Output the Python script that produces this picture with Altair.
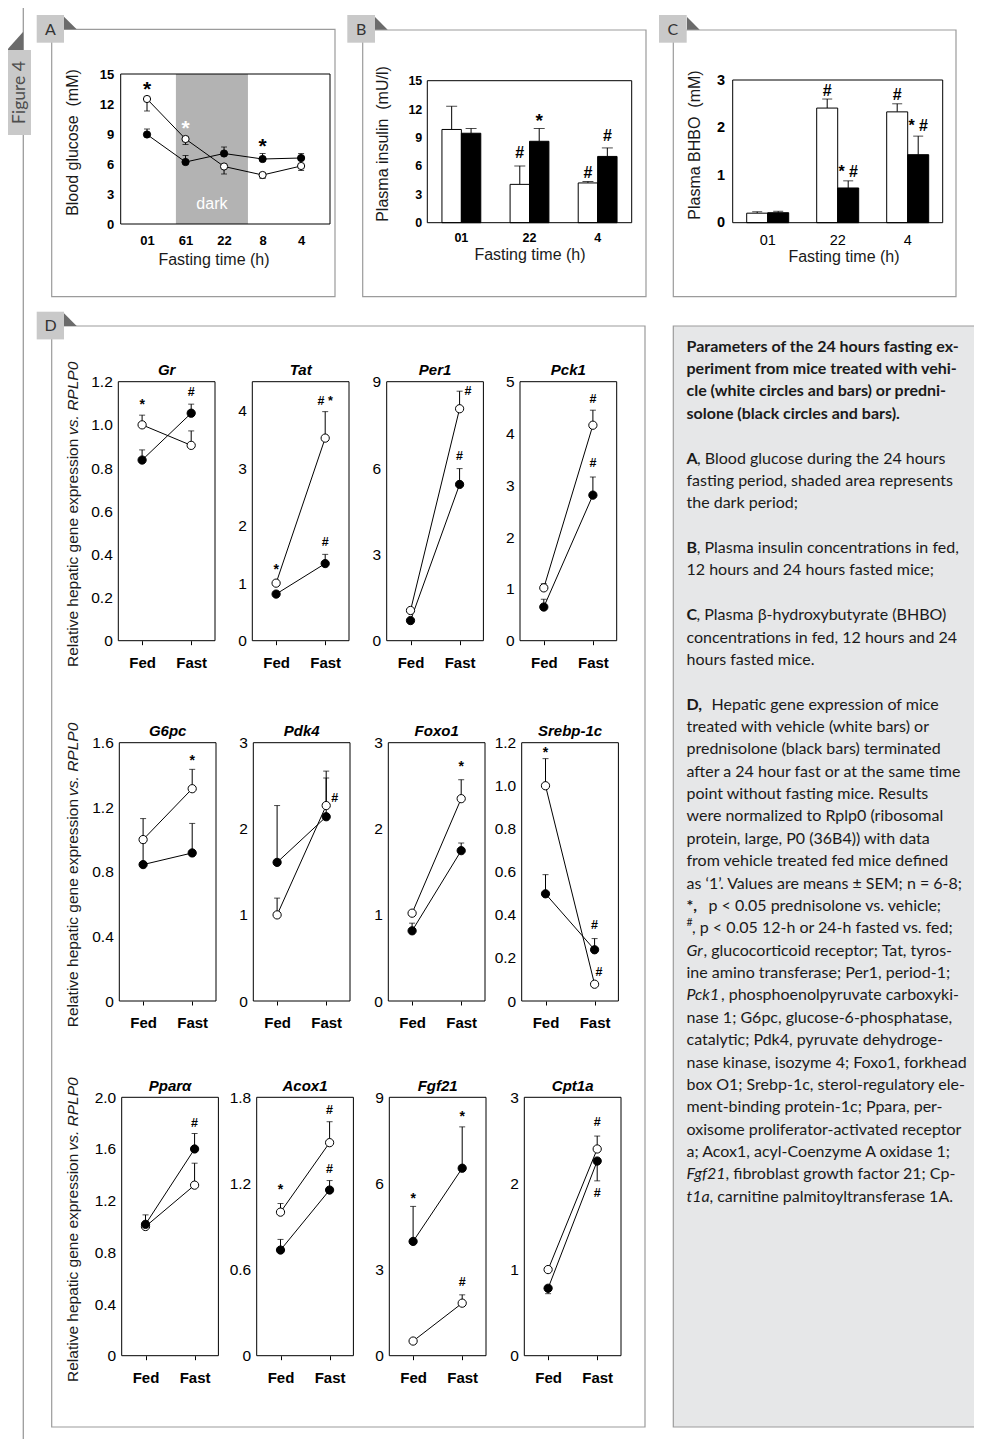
import altair as alt
import pandas as pd

# ============================== DATA ==============================
# Panel A: blood glucose (mM) during the fast
A_TIME = ["01", "61", "22", "8", "4"]
A_VEH = [12.5, 8.5, 5.75, 4.9, 5.8]
A_VEH_TIP = [11.3, 7.95, 5.0, 4.55, 5.35]
A_PRED = [8.95, 6.2, 7.05, 6.5, 6.6]
A_PRED_TIP = [9.5, 6.85, 7.7, 7.05, 7.05]
A_DARK = [0.75, 2.62]          # dark period, in time-index units
A_DARK_LABEL_Y = 2.0
A_STAR_T = [0, 1, 3]
A_STAR_Y = [14.0, 10.1, 8.3]
A_STAR_IN_DARK = [False, True, False]

# Panels B and C
BC_TIME = ["01", "22", "4"]
B_VEH = [9.85, 4.05, 4.2]
B_VEH_TIP = [12.3, 6.0, 4.35]
B_PRED = [9.45, 8.6, 7.0]
B_PRED_TIP = [9.95, 9.95, 7.9]
B_ANN_T = ["22", "22", "4", "4"]
B_ANN_G = ["veh", "pred", "veh", "pred"]
B_ANN_Y = [7.5, 11.3, 5.4, 9.3]
B_ANN_TXT = ["#", "*", "#", "#"]

C_VEH = [0.2, 2.41, 2.33]
C_VEH_TIP = [0.23, 2.6, 2.5]
C_PRED = [0.21, 0.73, 1.43]
C_PRED_TIP = [0.24, 0.88, 1.82]
C_ANN_T = ["22", "22", "4", "4"]
C_ANN_G = ["veh", "pred", "veh", "pred"]
C_ANN_Y = [2.79, 1.09, 2.7, 2.05]
C_ANN_TXT = ["#", "* #", "#", "* #"]

# Panel D: hepatic gene expression (Fed, Fast)
GENES = ["Gr", "Tat", "Per1", "Pck1", "G6pc", "Pdk4", "Foxo1", "Srebp-1c",
         "Pparα", "Acox1", "Fgf21", "Cpt1a"]
COND = ["Fed", "Fast"]
VEH = [[1.0, 0.905], [1.0, 3.52], [1.05, 8.06], [1.02, 4.16], [1.0, 1.315], [1.0, 2.27],
       [1.02, 2.35], [1.0, 0.078], [1.0, 1.32], [1.0, 1.484], [0.51, 1.83], [1.0, 2.40]]
VEH_TIP = [[1.045, 0.972], [1.0, 3.98], [1.1, 8.67], [1.1, 4.45], [1.13, 1.435], [1.195, 2.67],
           [1.02, 2.57], [1.126, 0.078], [1.0, 1.49], [1.06, 1.63], [0.51, 2.12], [1.0, 2.55]]
PRED = [[0.837, 1.054], [0.81, 1.34], [0.7, 5.43], [0.65, 2.81], [0.845, 0.917], [1.61, 2.14],
        [0.815, 1.746], [0.498, 0.238], [1.017, 1.6], [0.736, 1.154], [3.98, 6.53], [0.783, 2.26]]
PRED_TIP = [[0.884, 1.096], [0.81, 1.5], [0.75, 5.98], [0.8, 3.16], [0.98, 1.10], [2.27, 2.59],
            [0.904, 1.835], [0.587, 0.29], [1.09, 1.72], [0.81, 1.22], [5.2, 7.97], [0.72, 2.03]]
Y_MAX = [1.2, 4.5, 9, 5, 1.6, 3, 3, 1.2, 2.0, 1.8, 9, 3]
Y_STEP = [0.2, 1, 3, 1, 0.4, 1, 1, 0.2, 0.4, 0.6, 3, 1]
Y_DEC = [True, False, False, False, True, False, False, True, True, True, False, False]

ANN_GENE = ["Gr", "Gr", "Tat", "Tat", "Tat", "Per1", "Per1", "Pck1", "Pck1", "G6pc", "Pdk4",
            "Foxo1", "Srebp-1c", "Srebp-1c", "Srebp-1c", "Pparα", "Acox1", "Acox1", "Acox1",
            "Fgf21", "Fgf21", "Fgf21", "Cpt1a", "Cpt1a"]
ANN_COND = ["Fed", "Fast", "Fed", "Fast", "Fast", "Fast", "Fast", "Fast", "Fast", "Fast", "Fast",
            "Fast", "Fed", "Fast", "Fast", "Fast", "Fed", "Fast", "Fast",
            "Fed", "Fast", "Fast", "Fast", "Fast"]
ANN_Y = [1.11, 1.15, 1.29, 4.16, 1.71, 8.67, 6.42, 4.67, 3.43, 1.51, 2.36,
         2.77, 1.17, 0.354, 0.137, 1.80, 1.18, 1.71, 1.30,
         5.6, 8.45, 2.55, 2.71, 1.89]
ANN_TXT = ["*", "#", "*", "# *", "#", "#", "#", "#", "#", "*", "#",
           "*", "*", "#", "#", "#", "*", "#", "#",
           "*", "*", "#", "#", "#"]
ANN_PLACE = ["c", "c", "c", "c", "c", "r", "c", "c", "c", "c", "r",
             "c", "c", "c", "q", "c", "c", "c", "c",
             "c", "c", "c", "c", "c"]

# Caption
CAPTION_BOLD = [
    "Parameters of the 24 hours fasting ex-",
    "periment from mice treated with vehi-",
    "cle (white circles and bars) or predni-",
    "solone (black circles and bars).",
]
CAP_ROW = [5, 6, 7, 9, 10, 12, 13, 14, 16, 17, 18, 19, 20, 21, 22, 23, 24, 25, 26, 27, 28, 29,
           30, 31, 32, 33, 34, 35, 36, 37, 38]
CAP_PREFIX = ["A", "", "", "B", "", "C", "", "", "D,", "", "", "", "", "", "", "", "", "*,", "#",
              "Gr", "", "Pck1", "", "", "", "", "", "", "", "Fgf21", "t1a"]
CAP_REST = [
    ", Blood glucose during the 24 hours",
    "fasting period, shaded area represents",
    "the dark period;",
    ", Plasma insulin concentrations in fed,",
    "12 hours and 24 hours fasted mice;",
    ", Plasma β-hydroxybutyrate (BHBO)",
    "concentrations in fed, 12 hours and 24",
    "hours fasted mice.",
    "Hepatic gene expression of mice",
    "treated with vehicle (white bars) or",
    "prednisolone (black bars) terminated",
    "after a 24 hour fast or at the same time",
    "point without fasting mice. Results",
    "were normalized to Rplp0 (ribosomal",
    "protein, large, P0 (36B4)) with data",
    "from vehicle treated fed mice defined",
    "as ‘1’. Values are means ± SEM; n = 6-8;",
    "p < 0.05 prednisolone vs. vehicle;",
    ", p < 0.05 12-h or 24-h fasted vs. fed;",
    ", glucocorticoid receptor; Tat, tyros-",
    "ine amino transferase; Per1, period-1;",
    ", phosphoenolpyruvate carboxyki-",
    "nase 1; G6pc, glucose-6-phosphatase,",
    "catalytic; Pdk4, pyruvate dehydroge-",
    "nase kinase, isozyme 4; Foxo1, forkhead",
    "box O1; Srebp-1c, sterol-regulatory ele-",
    "ment-binding protein-1c; Ppara, per-",
    "oxisome proliferator-activated receptor",
    "a; Acox1, acyl-Coenzyme A oxidase 1;",
    ", fibroblast growth factor 21; Cp-",
    ", carnitine palmitoyltransferase 1A.",
]

# ============================== LAYOUT / STYLE ==============================
W, H = 966, 1431
M = 8
FONT = "Liberation Sans"
CFONT = "Lato"
CSIZE = 16
INK = "#1a1a1a"
FRAME = "#9b9b9b"
LABEL_BOX = "#c9c9c9"
TRI = "#6b6b6b"

# prefix style: (weight, style, size, dy, dx_of_rest)
PREFIX_STYLE = {
    "A": ("bold", "normal", CSIZE, 0, 10.6),
    "B": ("bold", "normal", CSIZE, 0, 10.2),
    "C": ("bold", "normal", CSIZE, 0, 10.0),
    "D,": ("bold", "normal", CSIZE, 0, 25.0),
    "*,": ("bold", "normal", CSIZE, 0, 22.0),
    "#": ("normal", "normal", 10.5, -5, 5.5),
    "Gr": ("normal", "italic", CSIZE, 0, 17.0),
    "Pck1": ("normal", "italic", CSIZE, 0, 34.5),
    "Fgf21": ("normal", "italic", CSIZE, 0, 39.0),
    "t1a": ("normal", "italic", CSIZE, 0, 23.0),
}

D_ROW_Y = [(381.7, 640.7), (742.7, 1001.0), (1097.3, 1355.7)]
D_COL_X = [[118.3, 252.3, 386.7, 520.0], [119.3, 253.3, 388.3, 521.7], [121.7, 256.7, 389.3, 524.3]]
D_W = 96.7
D_PAD = 0.485
PLACE_DX = {"c": 0, "r": 8.5, "q": 4.5}

D_TOP = 326.0


def px(v):
    return v - M


def one():
    return alt.Data(values=[{"k": 0}])


def rect(x0, y0, x1, y1, fill="transparent", stroke=None, sw=1.0):
    mk = {"fill": fill}
    if stroke:
        mk.update(stroke=stroke, strokeWidth=sw)
    else:
        mk.update(strokeWidth=0)
    return alt.Chart(one()).mark_rect(**mk).encode(
        x=alt.value(px(x0)), x2=alt.value(px(x1)), y=alt.value(px(y0)), y2=alt.value(px(y1)))


def vline(x, y0, y1, color, sw):
    return alt.Chart(one()).mark_rule(color=color, strokeWidth=sw).encode(
        x=alt.value(px(x)), y=alt.value(px(y0)), y2=alt.value(px(y1)))


def text(t, x, y, size, color=INK, font=FONT, weight="normal", style="normal",
         angle=0, align="center", baseline="middle"):
    mk = dict(text=t, font=font, fontSize=size, color=color, fontWeight=weight,
              fontStyle=style, align=align, baseline=baseline)
    if angle:
        mk["angle"] = angle
    return alt.Chart(one()).mark_text(**mk).encode(x=alt.value(px(x)), y=alt.value(px(y)))


def tri(path, cx, cy, side, color):
    return alt.Chart(one()).mark_point(shape=path, size=side * side, filled=True, fill=color,
                                       opacity=1, strokeWidth=0).encode(
        x=alt.value(px(cx)), y=alt.value(px(cy)))


def idx_label_expr(labels):
    e = f"'{labels[-1]}'"
    for i in range(len(labels) - 2, -1, -1):
        e = f"datum.value == {i} ? '{labels[i]}' : ({e})"
    return e


def circles(base, y, size):
    veh = base.transform_filter("datum.grp == 'veh'").mark_circle(
        size=size, fill="white", stroke="black", strokeWidth=1, opacity=1).encode(y=y)
    pred = base.transform_filter("datum.grp == 'pred'").mark_circle(
        size=size, fill="black", stroke="black", strokeWidth=1, opacity=1).encode(y=y)
    return [veh, pred]


# ------------------------------ panel A ------------------------------
AX0, AX1, AY0, AY1 = 120.7, 330.0, 74.0, 224.0
A_DOM = [-0.683, 4.75]


def panel_a():
    n = len(A_TIME)
    df = pd.DataFrame({"t": list(range(n)) * 2, "grp": ["veh"] * n + ["pred"] * n,
                       "val": A_VEH + A_PRED, "tip": A_VEH_TIP + A_PRED_TIP})
    xs = alt.Scale(domain=A_DOM, range=[px(AX0), px(AX1)], nice=False, zero=False)
    ys = alt.Scale(domain=[0, 15], range=[px(AY1), px(AY0)], nice=False, zero=False)
    ax = alt.Axis(orient="bottom", offset=px(AY1) - H, values=list(range(n)),
                  labelExpr=idx_label_expr(A_TIME), domain=False, ticks=False, tickSize=0,
                  labelPadding=10, labelFont=FONT, labelFontSize=13, labelFontWeight="bold",
                  labelColor="black", grid=False, title=None, labelAngle=0, labelFlush=False,
                  labelOverlap=False)
    ay = alt.Axis(orient="left", offset=-px(AX0), values=[0, 3, 6, 9, 12, 15], format="d",
                  domain=False, ticks=False, tickSize=0, labelPadding=7, labelFont=FONT,
                  labelFontSize=13, labelFontWeight="bold", labelColor="black", grid=False,
                  title=None, labelOverlap=False)
    X = alt.X("t:Q", scale=xs, axis=ax)
    Yv = alt.Y("val:Q", scale=ys, axis=ay)
    Yt = alt.Y("tip:Q", scale=ys, axis=ay)
    band_df = pd.DataFrame({"t": [A_DARK[0]], "t2": [A_DARK[1]]})
    band = alt.Chart(band_df).mark_rect(fill="#b3b3b3").encode(
        x=X, x2="t2:Q", y=alt.value(px(AY0)), y2=alt.value(px(AY1)))
    dark_df = pd.DataFrame({"t": [(A_DARK[0] + A_DARK[1]) / 2], "val": [A_DARK_LABEL_Y],
                            "lab": ["dark"]})
    dark = alt.Chart(dark_df).mark_text(font=FONT, fontSize=16, color="white").encode(
        x=X, y=Yv, text="lab:N")
    base = alt.Chart(df).encode(x=X)
    rules = base.mark_rule(color="black", strokeWidth=1).encode(y=Yv, y2="tip:Q")
    caps = base.mark_tick(color="black", thickness=1, size=6, orient="horizontal").encode(y=Yt)
    line = base.mark_line(color="black", strokeWidth=1).encode(y=Yv, detail="grp:N")
    star_df = pd.DataFrame({"t": A_STAR_T, "val": A_STAR_Y, "dark": A_STAR_IN_DARK,
                            "s": ["*"] * len(A_STAR_T)})
    stars_b = alt.Chart(star_df).transform_filter("!datum.dark").mark_text(
        font=FONT, fontSize=21, fontWeight="bold", color="black", dy=6).encode(x=X, y=Yv, text="s:N")
    stars_w = alt.Chart(star_df).transform_filter("datum.dark").mark_text(
        font=FONT, fontSize=21, fontWeight="bold", color="white", dy=6).encode(x=X, y=Yv, text="s:N")
    box = rect(AX0, AY0, AX1, AY1, stroke="black", sw=1)
    return alt.layer(band, dark, rules, caps, line, *circles(base, Yv, 52), stars_b, stars_w, box)


# ------------------------------ panels B, C ------------------------------
def bar_panel(box, veh, veh_tip, pred, pred_tip, ymax, yvals, ann, pin, pout,
              xlab, ylab, cap_w):
    x0, x1, y0, y1 = box
    k = len(BC_TIME)
    df = pd.DataFrame({"t": BC_TIME * 2, "grp": ["veh"] * k + ["pred"] * k,
                       "val": veh + pred, "tip": veh_tip + pred_tip})
    xs = alt.Scale(type="band", domain=BC_TIME, range=[px(x0), px(x1)],
                   paddingInner=pin, paddingOuter=pout)
    ys = alt.Scale(domain=[0, ymax], range=[px(y1), px(y0)], nice=False, zero=False)
    ax = alt.Axis(orient="bottom", offset=px(y1) - H, domain=False, ticks=False, tickSize=0,
                  labelPadding=xlab[2], labelFont=FONT, labelFontSize=xlab[0],
                  labelFontWeight=xlab[1], labelColor="black", grid=False, title=None,
                  labelAngle=0, labelOverlap=False)
    ay = alt.Axis(orient="left", offset=-px(x0), values=yvals, format="d", domain=False,
                  ticks=False, tickSize=0, labelPadding=ylab[2], labelFont=FONT,
                  labelFontSize=ylab[0], labelFontWeight=ylab[1], labelColor="black",
                  grid=False, title=None, labelOverlap=False)
    X = alt.X("t:N", scale=xs, axis=ax)
    XO = alt.XOffset("grp:N", scale=alt.Scale(domain=["veh", "pred"], paddingInner=0,
                                              paddingOuter=0))
    Yv = alt.Y("val:Q", scale=ys, axis=ay)
    Yt = alt.Y("tip:Q", scale=ys, axis=ay)
    base = alt.Chart(df).encode(x=X, xOffset=XO)
    rules = base.mark_rule(color="black", strokeWidth=1).encode(y=Yv, y2="tip:Q")
    caps = base.mark_tick(color="black", thickness=1, size=cap_w, orient="horizontal").encode(y=Yt)
    bw = base.transform_filter("datum.grp == 'veh'").mark_bar(
        fill="white", stroke="black", strokeWidth=1).encode(y=Yv)
    bb = base.transform_filter("datum.grp == 'pred'").mark_bar(
        fill="black", stroke="black", strokeWidth=1).encode(y=Yv)
    adf = pd.DataFrame({"t": ann[0], "grp": ann[1], "val": ann[2], "txt": ann[3]})
    abase = alt.Chart(adf).encode(x=X, xOffset=XO, y=Yv, text="txt:N")
    a_star = abase.transform_filter("datum.txt == '*'").mark_text(
        font=FONT, fontSize=19, fontWeight="bold", color="black", dy=5)
    a_oth = abase.transform_filter("datum.txt != '*'").mark_text(
        font=FONT, fontSize=16, fontWeight="bold", color="black", dy=1)
    frame = rect(x0, y0, x1, y1, stroke="black", sw=1)
    return alt.layer(rules, caps, bw, bb, a_star, a_oth, frame)


# ------------------------------ panel D genes ------------------------------
def gene_panel(i):
    r, c = divmod(i, 4)
    y0, y1 = D_ROW_Y[r]
    x0 = D_COL_X[r][c]
    x1 = x0 + D_W
    gene = GENES[i]
    df = pd.DataFrame({"cond": COND * 2, "grp": ["veh", "veh", "pred", "pred"],
                       "val": VEH[i] + PRED[i], "tip": VEH_TIP[i] + PRED_TIP[i]})
    xs = alt.Scale(type="point", domain=COND, range=[px(x0), px(x1)], padding=D_PAD)
    ys = alt.Scale(domain=[0, Y_MAX[i]], range=[px(y1), px(y0)], nice=False, zero=False)
    n = int(Y_MAX[i] / Y_STEP[i] + 1e-9)
    ticks = [round(k * Y_STEP[i], 3) for k in range(n + 1)]
    lab = ("datum.value == 0 ? '0' : format(datum.value, '.1f')" if Y_DEC[i]
           else "format(datum.value, 'd')")
    ax = alt.Axis(orient="bottom", offset=px(y1) - H, domain=False, ticks=True, tickSize=4,
                  tickColor="black", tickWidth=1, labelFont=FONT, labelFontSize=15,
                  labelFontWeight="bold", labelColor="black", labelPadding=10.5, labelAngle=0,
                  grid=False, title=None, labelOverlap=False)
    ay = alt.Axis(orient="left", offset=-px(x0), domain=False, ticks=False, tickSize=0,
                  values=ticks, labelExpr=lab, labelFont=FONT, labelFontSize=15.5,
                  labelColor="black", labelPadding=6, grid=False, title=None,
                  labelOverlap=False)
    X = alt.X("cond:N", scale=xs, axis=ax)
    Yv = alt.Y("val:Q", scale=ys, axis=ay)
    Yt = alt.Y("tip:Q", scale=ys, axis=ay)
    base = alt.Chart(df).encode(x=X)
    rules = base.mark_rule(color="black", strokeWidth=1).encode(y=Yv, y2="tip:Q")
    caps = base.mark_tick(color="black", thickness=1, size=6, orient="horizontal").encode(y=Yt)
    line = base.mark_line(color="black", strokeWidth=1).encode(y=Yv, detail="grp:N")
    layers = [rules, caps, line, *circles(base, Yv, 68)]
    idx = [j for j, g in enumerate(ANN_GENE) if g == gene]
    adf = pd.DataFrame({"cond": [ANN_COND[j] for j in idx], "val": [ANN_Y[j] for j in idx],
                        "txt": [ANN_TXT[j] for j in idx], "place": [ANN_PLACE[j] for j in idx]})
    for place in ["c", "r", "q"]:
        for star in [True, False]:
            sub = adf[(adf["place"] == place) & ((adf["txt"] == "*") == star)]
            if len(sub) == 0:
                continue
            layers.append(alt.Chart(sub.reset_index(drop=True)).mark_text(
                font=FONT, fontSize=(14 if star else 12.5), fontWeight="bold", color="black",
                dx=PLACE_DX[place], dy=(4 if star else 0)).encode(x=X, y=Yv, text="txt:N"))
    layers.append(rect(x0, y0, x1, y1, stroke="black", sw=1))
    return alt.layer(*layers)


def gene_texts(i):
    r, c = divmod(i, 4)
    y0, y1 = D_ROW_Y[r]
    x0 = D_COL_X[r][c]
    return text(GENES[i], x0 + D_W / 2, y0 - 11.7, 15, color="black", weight="bold",
                style="italic")


# ------------------------------ caption ------------------------------
CAP_Y0 = 346.7
CAP_DY = 22.37
CAP_X = 686.5
CAP_N = 38


def caption():
    ys = alt.Scale(domain=[0, CAP_N], range=[px(CAP_Y0), px(CAP_Y0 + CAP_N * CAP_DY)],
                   nice=False, zero=False)
    Y = alt.Y("row:Q", scale=ys, axis=None)
    layers = []
    bdf = pd.DataFrame({"row": list(range(len(CAPTION_BOLD))), "txt": CAPTION_BOLD})
    layers.append(alt.Chart(bdf).mark_text(font=CFONT, fontSize=CSIZE, fontWeight="bold",
                                           align="left", color=INK).encode(
        x=alt.value(px(CAP_X)), y=Y, text="txt:N"))
    plain = [j for j, p in enumerate(CAP_PREFIX) if p == ""]
    pdf = pd.DataFrame({"row": [CAP_ROW[j] for j in plain], "txt": [CAP_REST[j] for j in plain]})
    layers.append(alt.Chart(pdf).mark_text(font=CFONT, fontSize=CSIZE, align="left",
                                           color=INK).encode(
        x=alt.value(px(CAP_X)), y=Y, text="txt:N"))
    for j, p in enumerate(CAP_PREFIX):
        if p == "":
            continue
        wgt, sty, size, dy, dx = PREFIX_STYLE[p]
        d1 = pd.DataFrame({"row": [CAP_ROW[j]], "txt": [p]})
        layers.append(alt.Chart(d1).mark_text(font=CFONT, fontSize=size, fontWeight=wgt,
                                              fontStyle=sty, align="left", dy=dy,
                                              color=INK).encode(
            x=alt.value(px(CAP_X)), y=Y, text="txt:N"))
        d2 = pd.DataFrame({"row": [CAP_ROW[j]], "txt": [CAP_REST[j]]})
        layers.append(alt.Chart(d2).mark_text(font=CFONT, fontSize=CSIZE, align="left",
                                              color=INK).encode(
            x=alt.value(px(CAP_X + dx)), y=Y, text="txt:N"))
    return alt.layer(*layers)


# ============================== ASSEMBLY ==============================
TRI_PATH = "M -1 -1 L -1 1 L 1 1 Z"
TAB_PATH = "M -0.9 1 L 0.9 -1 L 0.9 1 Z"

back = [
    vline(23.3, 0, 1447, FRAME, 1.3),
    rect(51.7, 29.3, 335.0, 296.7, stroke=FRAME, sw=1.2),
    rect(362.7, 30.0, 646.0, 296.7, stroke=FRAME, sw=1.2),
    rect(673.3, 30.0, 956.0, 296.7, stroke=FRAME, sw=1.2),
    rect(51.7, D_TOP, 645.0, 1427.0, stroke=FRAME, sw=1.2),
    rect(673.3, D_TOP, 1000.0, 1427.0, fill="#e6e7e8", stroke=FRAME, sw=1.2),
]

panels = [
    panel_a(),
    bar_panel((427.3, 631.7, 80.7, 222.7), B_VEH, B_VEH_TIP, B_PRED, B_PRED_TIP, 15,
              [0, 3, 6, 9, 12, 15], (B_ANN_T, B_ANN_G, B_ANN_Y, B_ANN_TXT), 0.43, 0.215,
              (12.5, "bold", 8.5), (12.5, "bold", 5.5), 11),
    bar_panel((732.7, 942.7, 80.0, 222.7), C_VEH, C_VEH_TIP, C_PRED, C_PRED_TIP, 3,
              [0, 1, 2, 3], (C_ANN_T, C_ANN_G, C_ANN_Y, C_ANN_TXT), 0.4, 0.2,
              (14.5, "normal", 10.5), (14.5, "bold", 8), 10),
    *[gene_panel(i) for i in range(len(GENES))],
    caption(),
]

front = [
    # panel labels
    rect(36.7, 15.0, 64.0, 42.7, fill=LABEL_BOX),
    tri(TRI_PATH, 70.35, 23.0, 12.7, TRI),
    text("A", 50.5, 29.5, 16, color="#333", font=CFONT),
    rect(347.3, 15.0, 375.0, 42.7, fill=LABEL_BOX),
    tri(TRI_PATH, 381.35, 23.35, 12.7, TRI),
    text("B", 361.2, 29.5, 16, color="#333", font=CFONT),
    rect(659.0, 15.0, 686.7, 42.7, fill=LABEL_BOX),
    tri(TRI_PATH, 693.35, 23.35, 12.7, TRI),
    text("C", 672.9, 29.5, 16, color="#333", font=CFONT),
    rect(36.7, D_TOP - 14.3, 64.0, D_TOP + 13.4, fill=LABEL_BOX),
    tri(TRI_PATH, 70.35, D_TOP - 6.3, 12.7, TRI),
    text("D", 50.5, D_TOP, 16, color="#333", font=CFONT),
    # figure tab
    rect(5.0, 50.0, 31.0, 135.0, fill=LABEL_BOX),
    tri(TAB_PATH, 15.0, 40.85, 18.3, TRI),
    text("Figure 4", 19.5, 92.5, 17.5, color="#4d4d4d", font=CFONT, angle=270),
    # top-row axis titles
    text("Blood glucose\u00a0 (mM)", 73.3, 142.5, 16, angle=270),
    text("Fasting time (h)", 214.0, 260.0, 16),
    text("Plasma insulin\u00a0 (mU/l)", 382.7, 144.0, 16, angle=270),
    text("Fasting time (h)", 530.0, 255.0, 16),
    text("Plasma BHBO\u00a0 (mM)", 695.0, 145.0, 16, angle=270),
    text("Fasting time (h)", 844.0, 257.0, 16),
]
for (yy0, yy1) in D_ROW_Y:
    front.append(text("Relative hepatic gene expression", 73.3, yy1 + 26.3, 15.5,
                      angle=270, align="left"))
    front.append(text("vs. RPLP0", 73.3, yy0 - 20.0, 15.5, style="italic",
                      angle=270, align="right"))
front += [gene_texts(i) for i in range(len(GENES))]

chart = alt.layer(*back, *panels, *front).resolve_scale(
    x="independent", y="independent", xOffset="independent"
).properties(
    width=W, height=H, padding=0, autosize=alt.AutoSizeParams(type="none")
).configure_view(strokeWidth=0)

chart.save("out.html", embed_options={"renderer": "svg", "actions": False})
